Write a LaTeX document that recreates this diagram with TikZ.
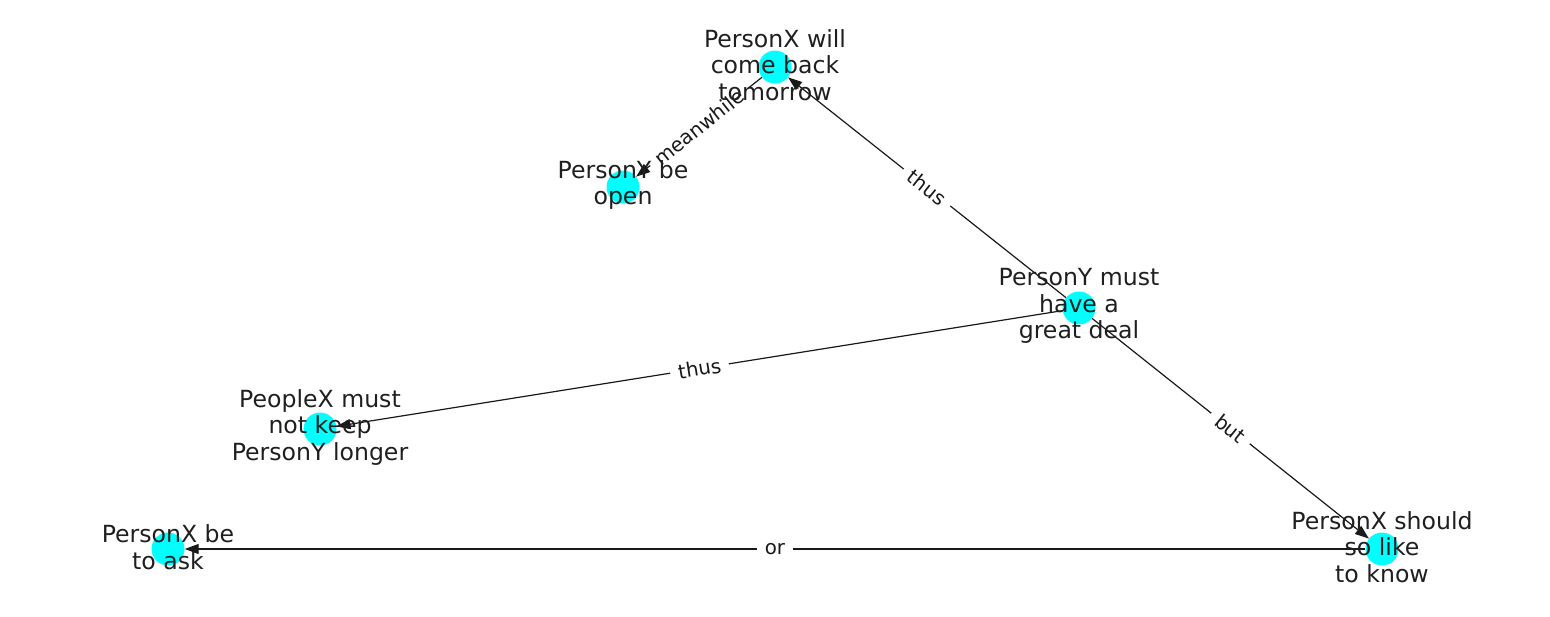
\documentclass[tikz,border=0pt]{standalone}
\usepackage{fontspec}
\setmainfont{DejaVu Sans}
\usetikzlibrary{arrows.meta}

\definecolor{aqua}{RGB}{0,255,255}
\tikzset{
  dot/.style={circle, fill=aqua, minimum size=33pt, inner sep=0pt},
  txt/.style={align=center, font=\fontsize{23.6}{26.5}\selectfont, text=black!88, inner sep=0pt, yshift=2pt},
  rel/.style={-{Triangle[length=14pt,width=10pt]}, line width=1.2pt, draw=black!90},
  tag/.style={midway, sloped, fill=white, text=black!90, inner xsep=8pt, inner ysep=4pt, font=\fontsize{19.8}{22}\selectfont},
}

\begin{document}
\begin{tikzpicture}[x=1pt,y=-1pt]
  \useasboundingbox (0,0) rectangle (1550,616);

  % circles
  \node[dot] (willback) at (775,67) {};
  \node[dot] (beopen) at (623,187) {};
  \node[dot] (mustdeal) at (1079,308) {};
  \node[dot] (notkeep) at (320,429) {};
  \node[dot] (toask) at (168,549) {};
  \node[dot] (toknow) at (1382,549) {};

  % relations
  \draw[rel] (mustdeal) -- node[tag] {thus} (willback);
  \draw[rel] (willback) -- node[tag] {meanwhile} (beopen);
  \draw[rel] (mustdeal) -- node[tag] {thus} (notkeep);
  \draw[rel] (mustdeal) -- node[tag] {but} (toknow);
  \draw[rel] (toknow) -- node[tag] {or} (toask);

  % texts
  \node[txt] (willback-t) at (willback) {PersonX will\\come back\\tomorrow};
  \node[txt] (beopen-t) at (beopen) {PersonY be\\open};
  \node[txt] (mustdeal-t) at (mustdeal) {PersonY must\\have a\\great deal};
  \node[txt] (notkeep-t) at (notkeep) {PeopleX must\\not keep\\PersonY longer};
  \node[txt] (toask-t) at (toask) {PersonX be\\to ask};
  \node[txt] (toknow-t) at (toknow) {PersonX should\\so like\\to know};
\end{tikzpicture}
\end{document}
